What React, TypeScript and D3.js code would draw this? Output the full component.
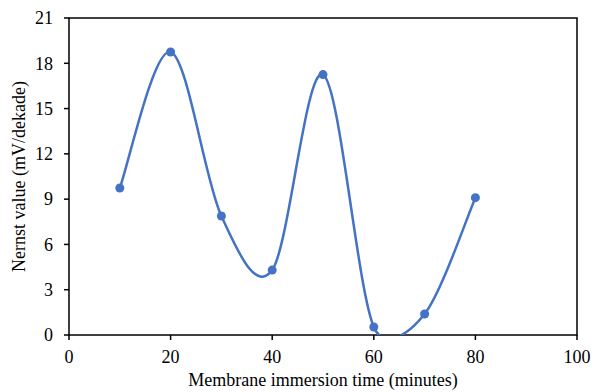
import * as d3 from 'd3';

const times = [10, 20, 30, 40, 50, 60, 70, 80];
const nernst = [9.74, 18.75, 7.88, 4.3, 17.25, 0.53, 1.39, 9.1];
const xTicks = [0, 20, 40, 60, 80, 100];
const yTicks = [0, 3, 6, 9, 12, 15, 18, 21];

const W = 594;
const H = 392;
const margin = { top: 18, right: 17, bottom: 57, left: 69 };
const blue = '#4472C4';
const font = '"Liberation Serif", "Times New Roman", serif';

// Excel-style smoothed line: bezier control points limited by segment length
function smoothPath(p: [number, number][]) {
  const path = d3.path();
  const dist = (a: [number, number], b: [number, number]) => Math.hypot(b[0] - a[0], b[1] - a[1]);
  path.moveTo(p[0][0], p[0][1]);
  for (let i = 0; i < p.length - 1; i++) {
    const p0 = p[Math.max(0, i - 1)];
    const p1 = p[i];
    const p2 = p[i + 1];
    const p3 = p[Math.min(p.length - 1, i + 2)];
    const d12 = dist(p1, p2);
    const d02 = dist(p0, p2);
    const d13 = dist(p1, p3);
    const f1 = d02 > 0 ? Math.min(1 / 6, d12 / (2 * d02)) : 0;
    const f2 = d13 > 0 ? Math.min(1 / 6, d12 / (2 * d13)) : 0;
    path.bezierCurveTo(
      p1[0] + f1 * (p2[0] - p0[0]), p1[1] + f1 * (p2[1] - p0[1]),
      p2[0] - f2 * (p3[0] - p1[0]), p2[1] - f2 * (p3[1] - p1[1]),
      p2[0], p2[1]
    );
  }
  return path.toString();
}

export default function App() {
  const iw = W - margin.left - margin.right;
  const ih = H - margin.top - margin.bottom;
  const x = d3.scaleLinear().domain([0, 100]).range([0, iw]);
  const y = d3.scaleLinear().domain([0, 21]).range([ih, 0]);
  const pts = times.map((t, i) => [x(t), y(nernst[i])] as [number, number]);

  return (
    <svg width={W} height={H} style={{ position: 'absolute', left: 0, top: 0, background: '#fff' }}>
      <defs>
        <clipPath id="plot">
          <rect x={0} y={0} width={iw} height={ih} />
        </clipPath>
      </defs>
      <g transform={`translate(${margin.left},${margin.top})`} fontFamily={font} fill="#000">
        <rect x={0} y={0} width={iw} height={ih} fill="none" stroke="#000" strokeWidth={1.5} />
        {yTicks.map(t => (
          <g key={t} transform={`translate(0,${y(t)})`}>
            <line x1={-5} x2={0} stroke="#000" strokeWidth={1.5} />
            <text x={-16} dy="0.35em" textAnchor="end" fontSize={18}>{t}</text>
          </g>
        ))}
        {xTicks.map(t => (
          <g key={t} transform={`translate(${x(t)},${ih})`}>
            <line y1={0} y2={5} stroke="#000" strokeWidth={1.5} />
            <text y={28} textAnchor="middle" fontSize={18}>{t}</text>
          </g>
        ))}
        <g clipPath="url(#plot)">
          <path d={smoothPath(pts)} fill="none" stroke={blue} strokeWidth={2.5} />
          {pts.map((p, i) => (
            <circle key={i} cx={p[0]} cy={p[1]} r={4.5} fill={blue} />
          ))}
        </g>
        <text x={iw / 2} y={ih + 51} textAnchor="middle" fontSize={18}>Membrane immersion time (minutes)</text>
        <text transform={`translate(${-44},${ih / 2}) rotate(-90)`} textAnchor="middle" fontSize={18}>Nernst value (mV/dekade)</text>
      </g>
    </svg>
  );
}
